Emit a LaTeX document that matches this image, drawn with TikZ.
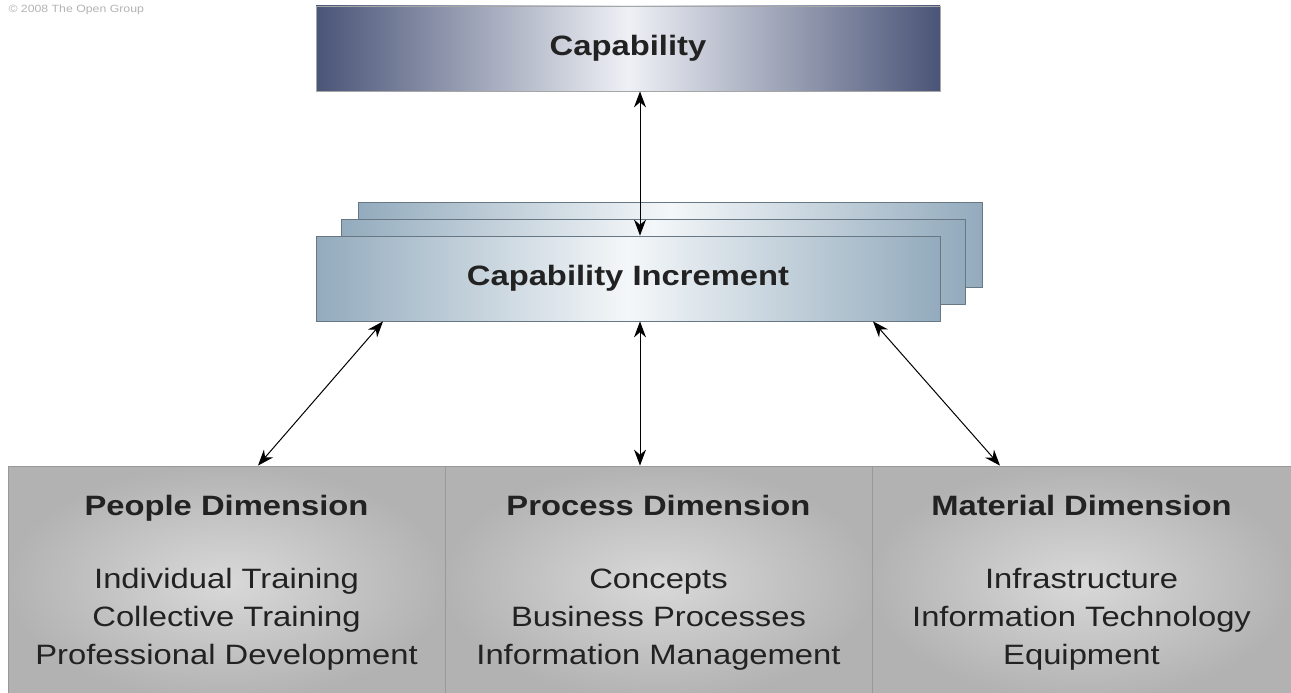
\documentclass[tikz,border=0pt]{standalone}
\usepackage{fontspec}
\setmainfont{Liberation Sans}[FakeStretch=1.17]
\usetikzlibrary{arrows.meta}

\definecolor{navy}{HTML}{4A5477}
\definecolor{navylight}{HTML}{EEF0F5}
\definecolor{steel}{HTML}{93ABBD}
\definecolor{steellight}{HTML}{F4F7F9}
\definecolor{ink}{HTML}{222222}

\begin{document}
\begin{tikzpicture}[x=1pt,y=-1pt,line join=round,
  capbox/.style={draw=gray!70,line width=0.8pt,inner sep=0pt,minimum width=624pt,minimum height=85pt,
    left color=navy,right color=navy,middle color=navylight,text=ink,font=\bfseries\fontsize{28}{34}\selectfont},
  incbox/.style={draw=steel!70!black,line width=0.8pt,inner sep=0pt,minimum width=624pt,minimum height=85pt,
    left color=steel,right color=steel,middle color=steellight,text=ink,font=\bfseries\fontsize{28}{34}\selectfont},
  dimbox/.style={draw=gray!80,line width=0.8pt,inner sep=0pt,minimum height=233pt,align=center,
    inner color=gray!30,outer color=gray!60,text=ink,font=\fontsize{28}{38}\selectfont},
  dimarrow/.style={line width=1pt,{Stealth[length=16pt,width=12pt]}-{Stealth[length=16pt,width=12pt]}}]
\useasboundingbox (0,0) rectangle (1291,693);

\node[anchor=west,text=gray!60,font=\fontsize{10.5}{12}\selectfont] (copy) at (5,10) {© 2008 The Open Group};

\node[capbox] (cap) at (628,48.5) {Capability};

\node[incbox] (incc) at (670,244.5) {};
\node[incbox] (incb) at (653,261.5) {};
\node[incbox] (inc) at (628,278.5) {Capability Increment};

\node[dimbox,minimum width=437pt] (people) at (226.5,582.5)
  {{\bfseries People Dimension}\\[35pt]Individual Training\\Collective Training\\Professional Development};
\node[dimbox,minimum width=427pt] (process) at (658.5,582.5)
  {{\bfseries Process Dimension}\\[35pt]Concepts\\Business Processes\\Information Management};
\node[dimbox,minimum width=419pt] (material) at (1081.5,582.5)
  {{\bfseries Material Dimension}\\[35pt]Infrastructure\\Information Technology\\Equipment};

\draw[dimarrow] ([xshift=12pt]cap.south) -- ([xshift=12pt]inc.north);
\draw[dimarrow] ([xshift=-245pt]inc.south) -- ([xshift=31.5pt]people.north);
\draw[dimarrow] ([xshift=12pt]inc.south) -- ([xshift=-18.5pt]process.north);
\draw[dimarrow] ([xshift=245pt]inc.south) -- ([xshift=-81.5pt]material.north);
\end{tikzpicture}
\end{document}
